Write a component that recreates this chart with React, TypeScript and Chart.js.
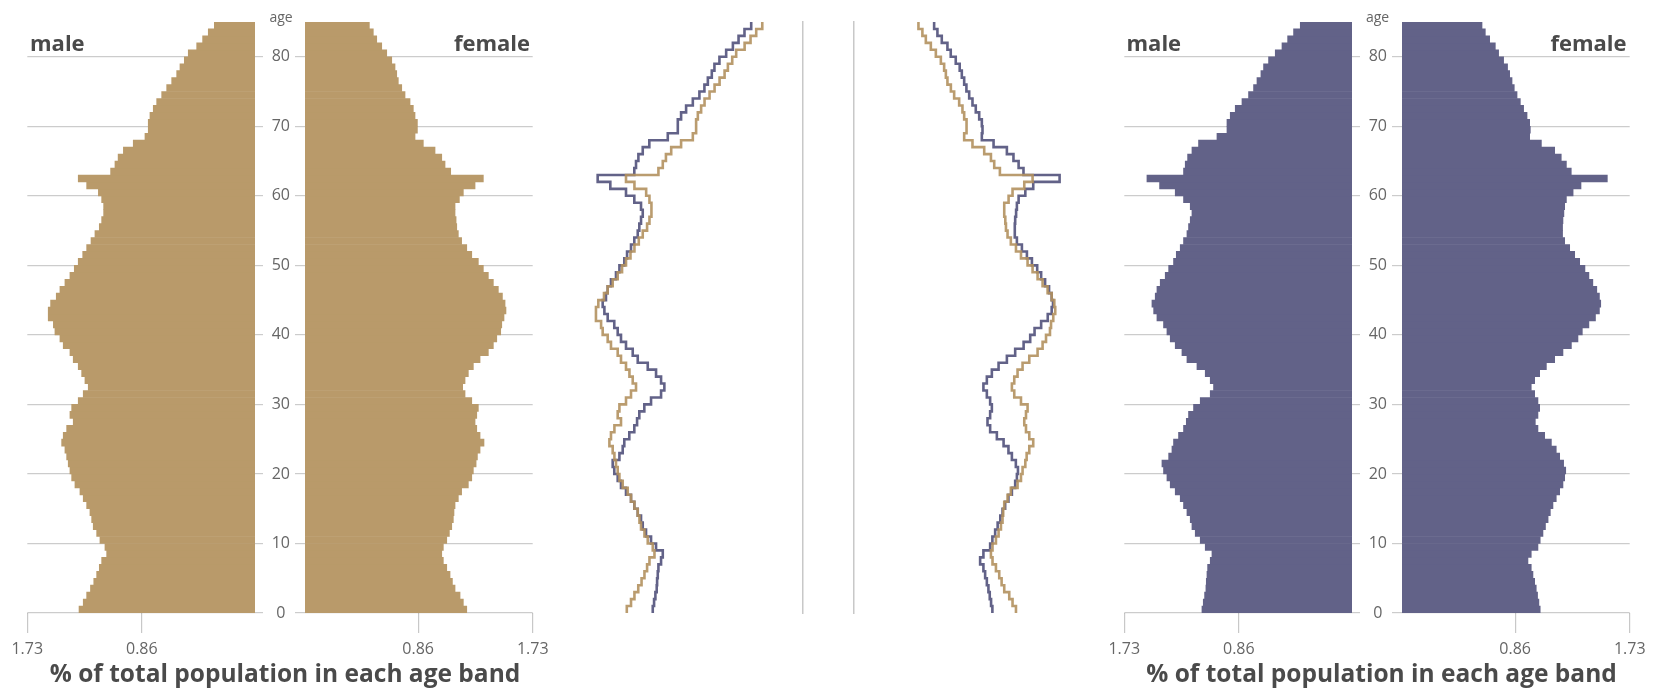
import React, { useEffect, useRef } from "react";
import { Chart, registerables } from "chart.js";

Chart.register(...registerables);

// ---------- data ----------
const AGES = [
  0, 1, 2, 3, 4, 5, 6, 7, 8, 9, 10, 11, 12, 13, 14, 15, 16, 17, 18, 19,
  20, 21, 22, 23, 24, 25, 26, 27, 28, 29, 30, 31, 32, 33, 34, 35, 36, 37, 38, 39,
  40, 41, 42, 43, 44, 45, 46, 47, 48, 49, 50, 51, 52, 53, 54, 55, 56, 57, 58, 59,
  60, 61, 62, 63, 64, 65, 66, 67, 68, 69, 70, 71, 72, 73, 74, 75, 76, 77, 78, 79,
  80, 81, 82, 83, 84,
];
const AGE_MAX = 85;

// population A (tan), % of total population per single year of age
const MALE_A = [
  1.337, 1.305, 1.279, 1.25, 1.225, 1.203, 1.183, 1.165, 1.127, 1.14,
  1.178, 1.203, 1.229, 1.241, 1.254, 1.279, 1.305, 1.33, 1.368, 1.393,
  1.406, 1.419, 1.431, 1.444, 1.469, 1.457, 1.431, 1.381, 1.406, 1.393,
  1.343, 1.305, 1.267, 1.292, 1.317, 1.343, 1.381, 1.406, 1.457, 1.482,
  1.52, 1.532, 1.571, 1.571, 1.553, 1.51, 1.482, 1.444, 1.406, 1.373,
  1.343, 1.309, 1.279, 1.246, 1.216, 1.183, 1.165, 1.15, 1.15, 1.165,
  1.19, 1.279, 1.343, 1.097, 1.064, 1.04, 1.0, 0.925, 0.836, 0.811,
  0.811, 0.798, 0.773, 0.747, 0.709, 0.671, 0.633, 0.595, 0.57, 0.537,
  0.507, 0.443, 0.398, 0.355, 0.309,
];
const FEMALE_A = [
  1.229, 1.203, 1.178, 1.14, 1.12, 1.102, 1.077, 1.051, 1.039, 1.051,
  1.077, 1.097, 1.115, 1.127, 1.132, 1.14, 1.165, 1.19, 1.241, 1.267,
  1.279, 1.3, 1.31, 1.33, 1.36, 1.33, 1.305, 1.292, 1.305, 1.317,
  1.267, 1.216, 1.198, 1.216, 1.241, 1.279, 1.33, 1.393, 1.431, 1.457,
  1.487, 1.495, 1.512, 1.527, 1.52, 1.5, 1.469, 1.431, 1.393, 1.355,
  1.317, 1.267, 1.229, 1.19, 1.165, 1.153, 1.148, 1.14, 1.14, 1.173,
  1.203, 1.292, 1.355, 1.107, 1.064, 1.039, 0.988, 0.899, 0.836, 0.854,
  0.854, 0.836, 0.823, 0.798, 0.76, 0.735, 0.709, 0.697, 0.684, 0.659,
  0.621, 0.583, 0.545, 0.519, 0.489,
];
// population B (purple)
const MALE_B = [
  1.14, 1.13, 1.12, 1.11, 1.107, 1.102, 1.097, 1.077, 1.064, 1.115,
  1.153, 1.191, 1.216, 1.229, 1.254, 1.28, 1.305, 1.343, 1.381, 1.406,
  1.432, 1.444, 1.393, 1.368, 1.356, 1.318, 1.28, 1.259, 1.242, 1.204,
  1.153, 1.077, 1.052, 1.077, 1.115, 1.178, 1.254, 1.292, 1.343, 1.381,
  1.406, 1.432, 1.482, 1.507, 1.52, 1.495, 1.482, 1.457, 1.419, 1.393,
  1.356, 1.335, 1.305, 1.28, 1.254, 1.242, 1.229, 1.216, 1.229, 1.28,
  1.343, 1.462, 1.558, 1.28, 1.267, 1.249, 1.216, 1.166, 1.026, 0.95,
  0.95, 0.925, 0.887, 0.836, 0.786, 0.748, 0.722, 0.692, 0.672, 0.634,
  0.583, 0.532, 0.489, 0.444, 0.393,
];
const FEMALE_B = [
  1.05, 1.04, 1.03, 1.02, 1.008, 0.995, 0.982, 0.957, 0.982, 1.033,
  1.05, 1.071, 1.09, 1.11, 1.127, 1.147, 1.172, 1.198, 1.223, 1.236,
  1.244, 1.228, 1.198, 1.172, 1.135, 1.084, 1.033, 1.013, 1.033, 1.046,
  1.033, 1.008, 0.982, 1.008, 1.046, 1.097, 1.16, 1.223, 1.287, 1.337,
  1.37, 1.42, 1.47, 1.5, 1.51, 1.5, 1.48, 1.45, 1.42, 1.39,
  1.35, 1.312, 1.274, 1.236, 1.22, 1.22, 1.223, 1.23, 1.236, 1.249,
  1.3, 1.36, 1.56, 1.286, 1.249, 1.21, 1.16, 1.059, 0.97, 0.975,
  0.97, 0.95, 0.924, 0.899, 0.874, 0.853, 0.836, 0.818, 0.802, 0.772,
  0.734, 0.709, 0.666, 0.633, 0.608,
];

const X_MAX = 1.73;
const X_TICKS = [0.86, 1.73];
const X_TICK_LABELS = ["0.86", "1.73"];
const AGE_STEP = 10;

const TITLE = "% of total population in each age band";
const MALE_LABEL = "male";
const FEMALE_LABEL = "female";
const AGE_LABEL = "age";

// ---------- style ----------
const TAN = "#b99a6a";
const TAN_LINE = "rgba(178,145,95,0.9)";
const PURPLE = "#626288";
const GRID = "rgba(0,0,0,0.2)";
const AXIS = "#c8c8c8";
const TICK_TEXT = "#666";
const FONT = '"Open Sans", "DejaVu Sans", sans-serif';
const H = 690;
const TOP = 22;
const BOTTOM_SPACE = 77; // chart area bottom at 613

type PanelSpec = {
  key: string;
  left: number;
  width: number;
  config: any;
};

function barConfig(values: number[], color: string, isMale: boolean, padL: number, padR: number) {
  return {
    type: "bar",
    data: {
      datasets: [
        {
          data: AGES.map((a, i) => ({ x: values[i], y: a + 0.5 })),
          backgroundColor: color,
          borderWidth: 0,
          barPercentage: 1,
          categoryPercentage: 1,
        },
      ],
    },
    options: {
      indexAxis: "y",
      animation: false,
      responsive: false,
      maintainAspectRatio: false,
      layout: { padding: { left: padL, right: padR, top: TOP, bottom: 0 } },
      plugins: { legend: { display: false }, tooltip: { enabled: false } },
      scales: {
        x: {
          type: "linear",
          min: 0,
          max: X_MAX,
          reverse: isMale,
          position: "bottom",
          offset: false,
          grid: { drawOnChartArea: false, drawTicks: true, tickLength: 20, color: AXIS, lineWidth: 1.2, offset: false },
          border: { display: false },
          ticks: {
            font: { family: FONT, size: 16 },
            color: TICK_TEXT,
            padding: 7,
            maxRotation: 0,
            callback: (v: number) => {
              const i = X_TICKS.indexOf(v);
              return i >= 0 ? X_TICK_LABELS[i] : "";
            },
          },
          afterBuildTicks: (s: any) => {
            s.ticks = X_TICKS.map((v) => ({ value: v }));
          },
          afterFit: (s: any) => {
            s.height = BOTTOM_SPACE;
          },
        },
        y: {
          type: "linear",
          min: 0,
          max: AGE_MAX,
          offset: false,
          position: isMale ? "right" : "left",
          z: 1,
          grid: { color: GRID, lineWidth: 1.2, drawTicks: true, tickLength: isMale ? 8 : 10, offset: false },
          border: { display: false },
          ticks: {
            stepSize: AGE_STEP,
            includeBounds: false,
            display: !isMale,
            crossAlign: "center",
            padding: 5,
            font: { family: FONT, size: 16 },
            color: TICK_TEXT,
          },
          afterFit: (s: any) => {
            s.width = isMale ? 8 : 42;
          },
        },
      },
    },
  };
}

function stepPoints(values: number[]) {
  const pts = AGES.map((a, i) => ({ x: values[i], y: a }));
  pts.push({ x: values[values.length - 1], y: AGE_MAX });
  return pts;
}

function lineConfig(valA: number[], valB: number[], isMale: boolean, padL: number, padR: number) {
  return {
    type: "scatter",
    data: {
      datasets: [
        {
          data: stepPoints(valA),
          showLine: true,
          stepped: "after",
          borderColor: TAN_LINE,
          borderWidth: 2.6,
          pointRadius: 0,
          fill: false,
        },
        {
          data: stepPoints(valB),
          showLine: true,
          stepped: "after",
          borderColor: PURPLE,
          borderWidth: 2.6,
          pointRadius: 0,
          fill: false,
        },
      ],
    },
    options: {
      animation: false,
      responsive: false,
      maintainAspectRatio: false,
      layout: { padding: { left: padL, right: padR, top: TOP, bottom: BOTTOM_SPACE } },
      plugins: { legend: { display: false }, tooltip: { enabled: false } },
      scales: {
        x: { type: "linear", min: 0, max: X_MAX, reverse: isMale, display: false },
        y: {
          type: "linear",
          min: 0,
          max: AGE_MAX,
          position: isMale ? "right" : "left",
          grid: { display: false },
          ticks: { display: false },
          border: { display: true, color: AXIS, width: 1.5 },
          afterFit: (s: any) => {
            s.width = 0;
          },
        },
      },
    },
  };
}

const RIGHT_OFF = 1096.5;

const PANELS: PanelSpec[] = [
  { key: "lm", left: 0, width: 263, config: barConfig(MALE_A, TAN, true, 27.3, 0) },
  { key: "lf", left: 263, width: 297, config: barConfig(FEMALE_A, TAN, false, 0, 27.3) },
  { key: "mm", left: 560, width: 270, config: lineConfig(MALE_A, MALE_B, true, 15, 27) },
  { key: "mf", left: 830, width: 270, config: lineConfig(FEMALE_A, FEMALE_B, false, 24, 18) },
  { key: "rm", left: RIGHT_OFF, width: 263, config: barConfig(MALE_B, PURPLE, true, 27.3, 0) },
  { key: "rf", left: RIGHT_OFF + 263, width: 297, config: barConfig(FEMALE_B, PURPLE, false, 0, 27.3) },
];

function ChartPanel({ left, width, config }: { left: number; width: number; config: any }) {
  const ref = useRef<HTMLCanvasElement | null>(null);
  useEffect(() => {
    if (!ref.current) return;
    const chart = new Chart(ref.current, config);
    return () => chart.destroy();
  }, [config]);
  return (
    <canvas
      ref={ref}
      width={width}
      height={H}
      style={{ position: "absolute", left, top: 0, width, height: H }}
    />
  );
}

function PyramidLabels({ off }: { off: number }) {
  const bold: React.CSSProperties = {
    position: "absolute",
    fontFamily: FONT,
    fontWeight: 700,
    color: "#4a4a4a",
    whiteSpace: "nowrap",
  };
  return (
    <>
      <div style={{ ...bold, left: off + 30, top: 29, fontSize: 22, lineHeight: "26px" }}>{MALE_LABEL}</div>
      <div style={{ ...bold, left: off + 330, top: 29, width: 200, textAlign: "right", fontSize: 22, lineHeight: "26px" }}>
        {FEMALE_LABEL}
      </div>
      <div
        style={{
          position: "absolute",
          left: off + 251,
          width: 60,
          top: 8,
          textAlign: "center",
          fontFamily: FONT,
          fontSize: 14,
          lineHeight: "18px",
          color: TICK_TEXT,
        }}
      >
        {AGE_LABEL}
      </div>
      <div style={{ ...bold, left: off + 20, width: 530, top: 658, textAlign: "center", fontSize: 24.5, lineHeight: "30px" }}>
        {TITLE}
      </div>
    </>
  );
}

export default function App() {
  return (
    <div
      style={{
        position: "absolute",
        left: 0,
        top: 0,
        width: 1661,
        height: H,
        background: "#fff",
        overflow: "hidden",
      }}
    >
      {PANELS.map((p) => (
        <ChartPanel key={p.key} left={p.left} width={p.width} config={p.config} />
      ))}
      <PyramidLabels off={0} />
      <PyramidLabels off={RIGHT_OFF} />
    </div>
  );
}
